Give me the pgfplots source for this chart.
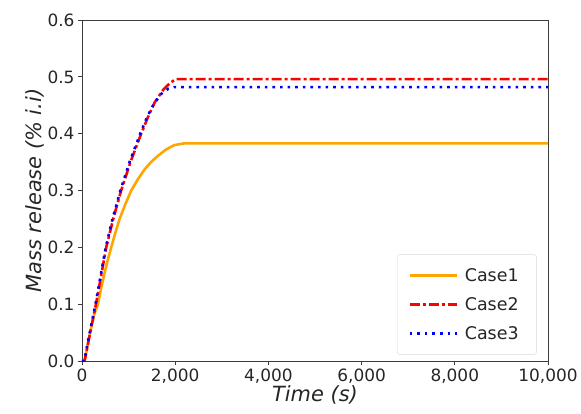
\documentclass[border=0pt]{standalone}
\usepackage{pgfplots}
\pgfplotsset{compat=1.18}
\usepackage{fontspec}
\setmainfont{DejaVu Sans}
\definecolor{mplorange}{RGB}{255,165,0}
\definecolor{axgray}{RGB}{60,60,60}
\begin{document}
\begin{tikzpicture}
\useasboundingbox (-82bp,-53bp) rectangle (499bp,361bp);
\begin{axis}[
  at={(0,0)}, anchor=south west,
  scale only axis, width=466bp, height=341bp,
  xmin=0, xmax=10000, ymin=0, ymax=0.6,
  xtick={0,2000,4000,6000,8000,10000},
  ytick={0,0.1,0.2,0.3,0.4,0.5,0.6},
  scaled ticks=false,
  xticklabel style={/pgf/number format/.cd, 1000 sep={,}, assume math mode=true},
  yticklabel style={/pgf/number format/.cd, fixed, fixed zerofill, precision=1, assume math mode=true},
  tick label style={font=\fontsize{17}{20}\selectfont, text=black!85},
  label style={font=\fontsize{21}{24}\selectfont\itshape, text=black!85},
  xlabel={Time (s)},
  ylabel={Mass release (\% i.i)},
  xlabel style={yshift=4bp},
  ylabel style={yshift=-4bp},
  axis line style={axgray, line width=0.9bp},
  tick style={axgray, line width=0.8bp},
  tick align=outside, major tick length=4bp,
  xtick pos=bottom, ytick pos=left,
  legend style={at={(0.976,0.018)}, anchor=south east, draw=black!15, rounded corners=3bp,
    font=\fontsize{17.5}{20}\selectfont, text=black!85, inner xsep=11bp, inner ysep=12bp, row sep=10.5bp,
    nodes={inner xsep=7bp}},
  legend cell align=left,
  legend image code/.code={\draw[#1] (0bp,0bp) -- (47bp,0bp);},
]
\addplot[mplorange, line width=2.6bp] coordinates {
(0,0) (55,0) (130,0.031) (200,0.06) (260,0.082) (343,0.1) (410,0.128) (485,0.155) (560,0.18) (628,0.2) (710,0.224) (807,0.25) (930,0.276) (1057,0.3) (1200,0.32) (1342,0.337) (1480,0.35) (1630,0.361) (1800,0.372) (1985,0.38) (2200,0.383) (10000,0.383)};
\addlegendentry{Case1}
\addplot[red, line width=2.6bp, dash pattern=on 10bp off 3bp on 3bp off 3bp] coordinates {
(0,0) (55,0) (130,0.031) (200,0.06) (300,0.1) (410,0.15) (520,0.2) (670,0.25) (840,0.3) (1040,0.35) (1270,0.4) (1420,0.43) (1560,0.455) (1750,0.478) (1900,0.49) (2020,0.496) (10000,0.496)};
\addlegendentry{Case2}
\addplot[blue, line width=2.6bp, dash pattern=on 2.6bp off 5bp] coordinates {
(0,0) (50,0) (120,0.031) (190,0.06) (290,0.1) (400,0.15) (510,0.2) (655,0.25) (825,0.3) (1020,0.35) (1250,0.4) (1400,0.43) (1540,0.452) (1700,0.47) (1850,0.479) (1980,0.482) (10000,0.482)};
\addlegendentry{Case3}
\end{axis}
\end{tikzpicture}
\end{document}
